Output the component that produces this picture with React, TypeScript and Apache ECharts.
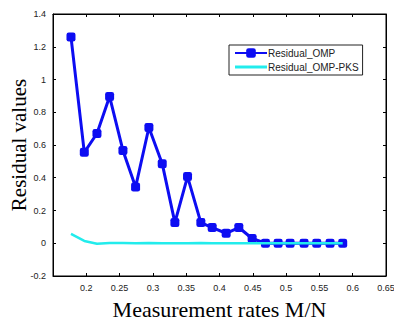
import React, { useEffect, useRef } from "react";
import * as echarts from "echarts";

const rates = [0.177, 0.197, 0.216, 0.235, 0.255, 0.274, 0.294, 0.314, 0.333, 0.352, 0.372, 0.389, 0.41, 0.429, 0.449, 0.469, 0.488, 0.506, 0.527, 0.546, 0.566, 0.585];
const residualOMP = [1.26, 0.555, 0.67, 0.896, 0.567, 0.343, 0.707, 0.486, 0.126, 0.407, 0.126, 0.096, 0.061, 0.096, 0.029, 0, 0, 0, 0, 0, 0, 0];
const residualPKS = [0.057, 0.014, -0.003, 0.002, 0.001, 0, 0.001, 0, 0, 0, 0.001, 0, 0, 0, 0, 0, 0, 0, 0, 0, 0, 0];
const seriesNames = ["Residual_OMP", "Residual_OMP-PKS"];

const fmt = (v: number) => String(parseFloat(v.toFixed(2)));

export default function App() {
  const ref = useRef<HTMLDivElement>(null);
  useEffect(() => {
    if (!ref.current) return;
    const chart = echarts.init(ref.current, null, { renderer: "svg" });
    const axisLine = { show: true, onZero: false, lineStyle: { color: "#000", width: 1 } };
    const tickStyle = { show: true, inside: true, length: 3, lineStyle: { color: "#000" } };
    const labelStyle = { color: "#222", fontSize: 9, fontFamily: "Liberation Sans, Arial, sans-serif" };
    chart.setOption({
      animation: false,
      backgroundColor: "#fff",
      grid: { left: 53, top: 14, width: 333, height: 262, show: true, borderColor: "#000", borderWidth: 1, outerBoundsMode: "none", containLabel: false },
      legend: {
        orient: "vertical",
        left: 229,
        top: 45,
        data: [
          { name: seriesNames[0] },
          { name: seriesNames[1], icon: "path://M0,0H32V3H0Z" },
        ],
        itemWidth: 32,
        itemHeight: 12,
        itemGap: 4,
        padding: [3, 4, 3, 5],
        borderColor: "#222",
        borderWidth: 1,
        backgroundColor: "#fff",
        textStyle: { fontSize: 10, color: "#222", fontFamily: "Liberation Sans, Arial, sans-serif", padding: [0, 0, 0, -4] },
      },
      xAxis: [
        {
          type: "value",
          min: 0.15,
          max: 0.65,
          interval: 0.05,
          axisLine,
          axisTick: tickStyle,
          splitLine: { show: false },
          axisLabel: { ...labelStyle, margin: 7, formatter: (v: number) => (Math.abs(v - 0.15) < 1e-6 ? "" : fmt(v)) },
          name: "Measurement rates M/N",
          nameLocation: "middle",
          nameGap: 22,
          nameMoveOverlap: false,
          nameTextStyle: { fontSize: 22, color: "#000", fontFamily: "Liberation Serif, Times New Roman, serif" },
        },
        {
          type: "value",
          position: "top",
          min: 0.15,
          max: 0.65,
          interval: 0.05,
          axisLine,
          axisTick: tickStyle,
          splitLine: { show: false },
          axisLabel: { show: false },
        },
      ],
      yAxis: [
        {
          type: "value",
          min: -0.2,
          max: 1.4,
          interval: 0.2,
          axisLine,
          axisTick: tickStyle,
          splitLine: { show: false },
          axisLabel: { ...labelStyle, margin: 7, formatter: (v: number) => fmt(v) },
          name: "Residual values",
          nameLocation: "middle",
          nameGap: 24,
          nameMoveOverlap: false,
          nameTextStyle: { fontSize: 21, color: "#000", fontFamily: "Liberation Serif, Times New Roman, serif" },
        },
        {
          type: "value",
          position: "right",
          min: -0.2,
          max: 1.4,
          interval: 0.2,
          axisLine,
          axisTick: tickStyle,
          splitLine: { show: false },
          axisLabel: { show: false },
        },
      ],
      series: [
        {
          name: seriesNames[0],
          type: "line",
          data: rates.map((r, i) => [r, residualOMP[i]]),
          symbol: "roundRect",
          symbolSize: 9,
          itemStyle: { color: "#0d0df2" },
          lineStyle: { color: "#0d0df2", width: 3 },
          z: 2,
        },
        {
          name: seriesNames[1],
          type: "line",
          data: rates.map((r, i) => [r, residualPKS[i]]),
          symbol: "none",
          itemStyle: { color: "#22ecec" },
          lineStyle: { color: "#22ecec", width: 2.5 },
          z: 3,
        },
      ],
    });
    return () => chart.dispose();
  }, []);
  return <div ref={ref} style={{ width: 394, height: 320, position: "absolute", left: 0, top: 0 }} />;
}
